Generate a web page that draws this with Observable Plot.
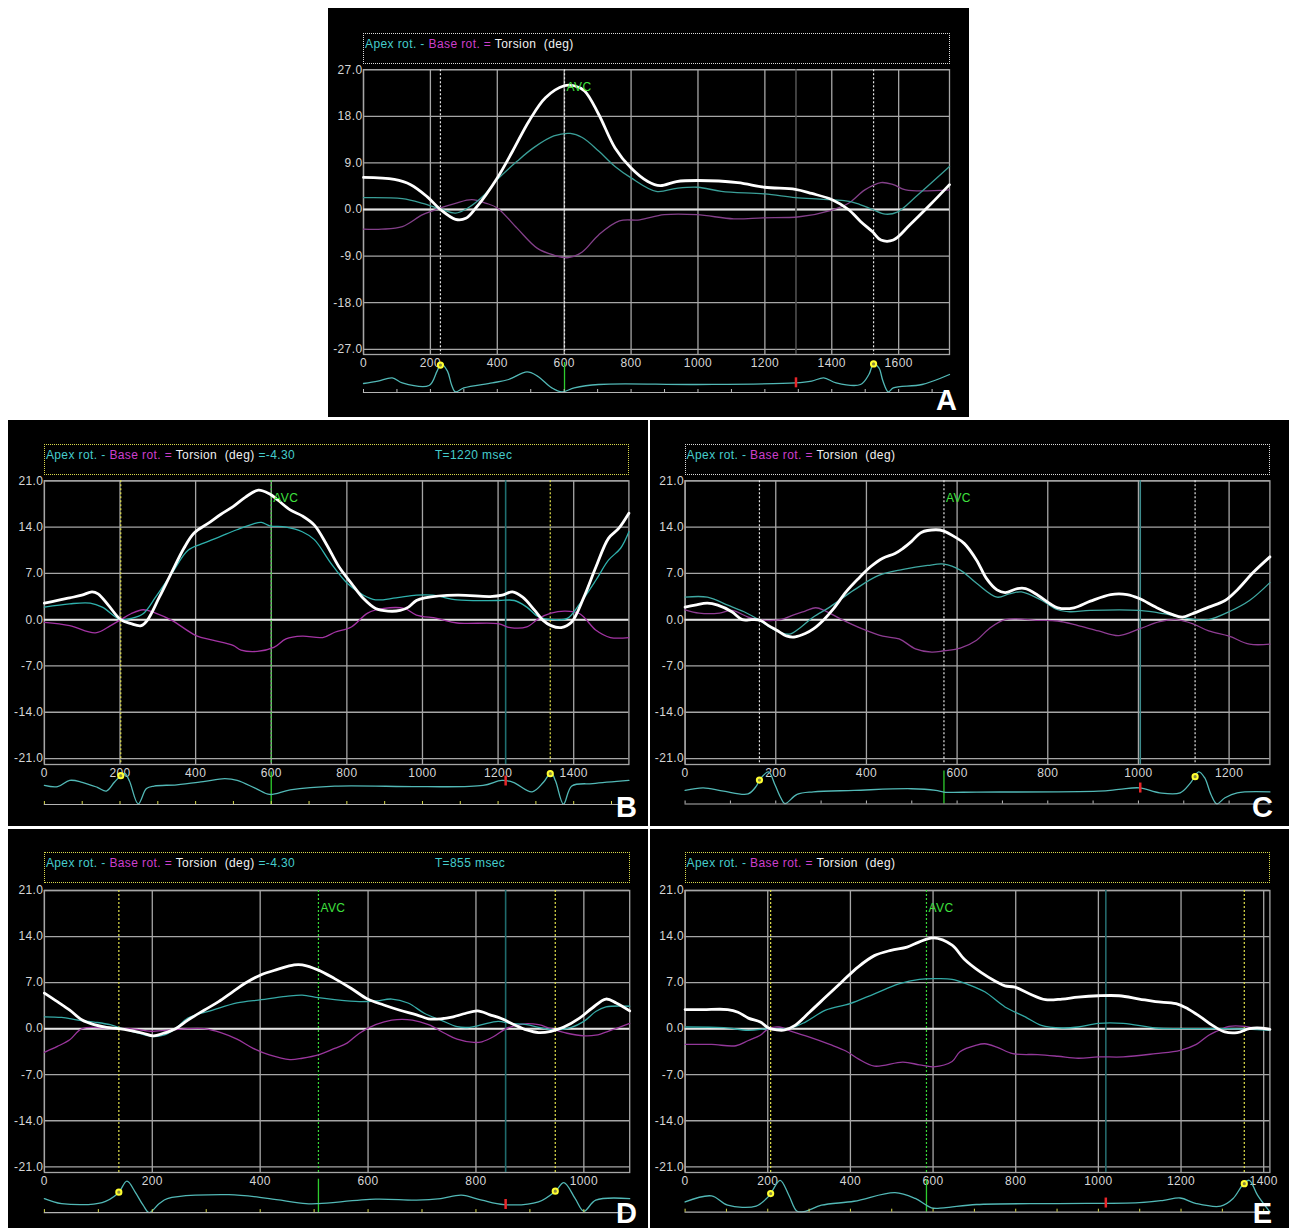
<!DOCTYPE html>
<html>
<head>
<meta charset="utf-8">
<script src="https://cdn.jsdelivr.net/npm/d3@7"></script>
<script src="https://cdn.jsdelivr.net/npm/@observablehq/plot@0.6"></script>
<style>
  html, body { margin: 0; padding: 0; background: #fff; }
  body { width: 1289px; height: 1228px; position: relative; overflow: hidden; font-family: "Liberation Sans", Arial, sans-serif; }
  .panel { position: absolute; background: #000; overflow: hidden; }
  .panel svg { position: absolute; left: 0; top: 0; }
  .hdr { position: absolute; box-sizing: border-box; border: 1px dotted #ddd; font-size: 12px; letter-spacing: 0.4px; line-height: 13px; padding: 4px 0 0 1px; white-space: pre; color: #eee; }
  .hdr span { position: relative; }
  .letter { position: absolute; color: #fff; font: bold 29px "Liberation Sans", Arial, sans-serif; line-height: 29px; }
</style>
</head>
<body>
<script>
// ================= DATA =================
const panelLetters = ["A", "B", "C", "D", "E"];
const timeMax = [1752, 1546, 1290, 1085, 1415];
const degMax = [27, 21, 21, 21, 21];
const degTicksA = [-27, -18, -9, 0, 9, 18, 27];
const degTicksBE = [-21, -14, -7, 0, 7, 14, 21];
const timeTicksA = [0, 200, 400, 600, 800, 1000, 1200, 1400, 1600];
const timeTicksB = [0, 200, 400, 600, 800, 1000, 1200, 1400];
const timeTicksC = [0, 200, 400, 600, 800, 1000, 1200];
const timeTicksD = [0, 200, 400, 600, 800, 1000];
const timeTicksE = [0, 200, 400, 600, 800, 1000, 1200, 1400];
const avcTimes = [601, 600, 571, 508, 584];
const cursorTimes = [1293, 1220, 1004, 855, 1018];
const rWaveTimes = [[230, 1525], [202, 1338], [164, 1125], [138, 947], [207, 1353]];
const headerLabels = ["Apex rot. - ", "Base rot. = ", "Torsion  (deg)"];
const headerValues = ["", " =-4.30", "", " =-4.30", ""];
const headerTimes = ["", "T=1220 msec", "", "T=855 msec", ""];

// ---- Panel A (ms, deg) ----
const torsionA = [[0,6.2],[92,5.8],[141,4.8],[190,2.5],[230,0],[275,-1.9],[306,-1.7],[336,0.3],[400,6.1],[446,11.3],[495,17.1],[544,21.6],[600,23.9],[630,23.9],[661,22.9],[703,18.4],[752,11.9],[800,8.0],[850,5.4],[887,4.6],[936,5.4],[1000,5.6],[1119,5.2],[1199,4.3],[1291,3.9],[1340,3.1],[1401,1.9],[1450,0],[1486,-2.3],[1522,-4.3],[1547,-5.9],[1584,-5.9],[1633,-3.0],[1694,0.9],[1752,4.8]];
const apexA = [[0,2.3],[116,2.1],[177,1.2],[230,0.1],[275,-0.7],[312,0.3],[361,2.8],[400,5.8],[459,9.3],[508,11.9],[569,14.2],[618,14.7],[654,13.9],[703,11.3],[752,8.3],[800,6.1],[875,3.5],[936,4.1],[1000,4.3],[1070,3.5],[1199,3.0],[1291,2.3],[1364,2.0],[1437,1.7],[1474,1.2],[1522,0],[1560,-0.9],[1596,-0.5],[1657,2.8],[1752,8.3]];
const baseA = [[0,-3.8],[55,-3.8],[116,-3.3],[177,-1.0],[230,0.3],[275,1.2],[324,1.9],[367,1.2],[400,0.3],[459,-3.6],[520,-7.5],[569,-8.8],[612,-9.3],[654,-8.2],[703,-4.9],[765,-2.2],[826,-2.0],[899,-1.0],[997,-1.0],[1107,-1.8],[1193,-1.6],[1303,-1.4],[1401,-0.1],[1450,1.2],[1499,3.8],[1547,5.2],[1584,4.8],[1621,3.8],[1752,3.8]];
const ecgA = [[0,0.05],[43,0.17],[86,0.33],[116,0.08],[196,-0.05],[220,0.67],[232,1.03],[251,0.67],[263,0],[275,-0.37],[300,-0.17],[385,0.08],[434,0.25],[489,0.63],[520,0.42],[563,-0.17],[593,-0.37],[630,-0.17],[703,0],[997,0],[1291,0.08],[1340,0.17],[1376,0.33],[1413,0.08],[1486,0],[1511,0.5],[1525,1.03],[1541,0.83],[1553,0.17],[1569,-0.37],[1584,-0.17],[1670,0],[1752,0.5]];

// ---- Panel B ----
const torsionB = [[0,2.5],[35,2.9],[67,3.3],[99,3.7],[126,4.2],[142,3.9],[169,2.2],[202,0],[229,-0.6],[256,-0.9],[272,-0.1],[304,3.4],[337,7.2],[369,10.8],[396,13.1],[434,14.6],[466,15.9],[499,17.1],[531,18.5],[566,19.6],[596,19.0],[617,18.1],[650,16.6],[682,15.7],[714,14.3],[747,11.3],[779,8.0],[812,5.5],[844,3.2],[876,1.7],[909,1.3],[941,1.4],[963,1.9],[984,2.9],[1006,3.3],[1092,3.7],[1179,3.5],[1211,3.7],[1238,4.2],[1265,3.4],[1297,1.4],[1319,-0.1],[1340,-0.9],[1367,-1.2],[1394,-0.4],[1427,3.4],[1459,8.0],[1492,12.3],[1519,13.8],[1546,16.1]];
const apexB = [[0,1.9],[67,2.4],[121,2.5],[153,1.9],[202,0],[229,0.2],[261,0.9],[294,3.4],[337,7.0],[380,10.5],[423,11.6],[466,12.6],[509,13.6],[553,14.5],[574,14.7],[596,14.2],[639,14.0],[682,13.3],[714,12.1],[758,8.5],[801,5.5],[844,3.7],[876,3.0],[930,3.3],[984,3.7],[1027,3.7],[1092,3.0],[1200,2.9],[1243,2.9],[1276,1.9],[1308,0.4],[1351,0],[1383,0.2],[1416,2.4],[1459,6.0],[1492,9.0],[1524,10.8],[1546,13.3]];
const baseB = [[0,-0.4],[67,-0.9],[135,-2.0],[175,-0.9],[202,0],[229,0.9],[261,1.5],[294,1.0],[337,-0.1],[401,-2.4],[445,-3.1],[499,-3.9],[520,-4.6],[563,-4.8],[607,-4.2],[639,-2.9],[682,-2.5],[736,-2.7],[768,-1.9],[812,-1.1],[855,1.0],[898,1.7],[952,1.7],[984,0.7],[1038,0.2],[1092,-0.5],[1200,-0.6],[1232,-1.2],[1276,-1.1],[1308,0.2],[1340,1.0],[1378,1.3],[1416,0.9],[1459,-1.6],[1497,-2.7],[1546,-2.7]];
const ecgB = [[0,0.05],[35,-0.05],[67,0.45],[100,0.3],[140,-0.1],[164,-0.39],[185,0.3],[203,0.85],[213,1.0],[225,0.4],[248,-1.4],[270,-0.2],[290,0],[350,0.1],[420,0.35],[477,0.58],[510,0.45],[560,-0.2],[596,-0.66],[650,-0.3],[768,0],[1000,-0.05],[1160,0.05],[1210,0.45],[1240,0.3],[1290,-0.45],[1320,0.3],[1340,1.05],[1352,0.4],[1373,-1.42],[1395,0],[1450,0.2],[1546,0.45]];

// ---- Panel C ----
const torsionC = [[0,1.9],[22,2.2],[49,2.5],[72,2.2],[103,1.2],[126,0],[148,0],[166,-0.1],[184,-0.9],[202,-1.6],[225,-2.5],[243,-2.6],[265,-2.1],[283,-1.4],[306,0],[328,1.7],[355,4.2],[382,6.2],[409,8.0],[436,9.3],[463,10.0],[481,10.8],[499,11.8],[521,13.2],[553,13.6],[571,13.4],[593,12.6],[616,11.5],[643,9.0],[665,6.2],[688,4.5],[706,4.1],[733,4.7],[751,4.7],[778,3.7],[805,2.4],[822,1.8],[858,1.8],[894,2.8],[939,3.8],[975,3.8],[1002,3.2],[1038,1.9],[1074,0.8],[1097,0.4],[1119,0.9],[1155,1.9],[1191,2.9],[1218,4.5],[1254,7.2],[1290,9.5]];
const apexC = [[0,3.4],[49,3.4],[94,2.2],[130,1.2],[162,0],[193,-1.4],[229,-2.2],[256,-1.1],[283,0.4],[319,1.9],[373,4.5],[427,6.7],[481,7.6],[535,8.2],[571,8.4],[607,7.5],[643,5.5],[688,3.4],[715,3.9],[742,4.2],[787,2.9],[822,1.5],[849,1.2],[894,1.4],[1002,1.4],[1056,0.9],[1092,0.4],[1128,0],[1155,0],[1200,1.2],[1245,2.9],[1290,5.6]];
const baseC = [[0,1.5],[31,1.0],[76,1.0],[103,1.4],[139,0.4],[162,0],[211,0],[238,0.7],[265,1.3],[288,1.8],[310,1.3],[346,0],[391,-1.4],[436,-2.5],[472,-2.9],[508,-4.4],[544,-4.9],[571,-4.7],[607,-4.3],[643,-3.1],[670,-1.4],[706,0],[778,-0.1],[822,-0.2],[867,-0.9],[912,-1.7],[957,-2.4],[1002,-1.4],[1047,-0.3],[1083,0],[1119,-0.6],[1155,-1.7],[1200,-2.5],[1245,-3.7],[1290,-3.7]];
const ecgC = [[0,0.04],[40,0.18],[85,0],[139,-0.15],[157,0.27],[164,0.6],[184,1.05],[198,0.36],[211,-0.36],[220,-0.68],[247,-0.18],[283,-0.04],[373,0.04],[499,0.13],[553,0.04],[571,-0.05],[643,-0.05],[912,0],[957,0.09],[1002,0.18],[1047,-0.09],[1092,-0.09],[1115,0.45],[1133,1.05],[1146,0.73],[1160,-0.18],[1173,-0.69],[1191,-0.36],[1218,-0.09],[1290,-0.04]];

// ---- Panel D ----
const torsionD = [[0,5.4],[24,4.1],[47,2.8],[70,1.3],[92,0.6],[115,0.2],[138,0],[160,-0.3],[183,-0.7],[202,-1.1],[221,-0.7],[243,0],[266,1.3],[296,2.8],[323,4.1],[349,5.6],[372,6.9],[402,8.2],[432,9.0],[463,9.7],[478,9.7],[508,8.9],[538,7.6],[569,6.1],[599,4.5],[629,3.6],[659,2.8],[690,2.1],[712,1.5],[735,1.5],[758,1.8],[780,2.3],[803,2.7],[826,2.1],[848,1.5],[871,0.6],[894,-0.2],[916,-0.6],[939,-0.4],[962,0.2],[992,1.6],[1015,3.1],[1041,4.5],[1060,3.9],[1085,2.7]];
const apexD = [[0,1.8],[32,1.7],[62,1.3],[92,1.0],[122,0.6],[145,0],[175,-0.7],[202,-1.2],[221,-1.0],[243,0],[266,1.6],[312,2.8],[357,3.9],[402,4.4],[448,4.9],[478,5.1],[508,4.7],[538,4.4],[584,4.1],[614,4.2],[644,4.5],[674,3.9],[705,2.3],[735,1.3],[765,0.3],[788,0.2],[811,0.6],[841,1.1],[863,0.8],[894,0.6],[916,0.2],[947,-0.2],[977,0.2],[1000,1.1],[1022,2.6],[1041,3.3],[1085,3.4]];
const baseD = [[0,-3.6],[24,-2.7],[47,-1.7],[70,0],[130,0],[160,0],[198,-0.4],[236,-0.2],[266,0],[296,0],[327,-0.6],[357,-1.6],[387,-3.0],[417,-4.0],[455,-4.7],[478,-4.5],[508,-4.0],[538,-3.0],[561,-2.2],[584,-0.7],[614,0.6],[644,1.3],[682,1.3],[712,0.6],[742,-0.7],[765,-1.6],[796,-2.1],[811,-2.0],[833,-1.2],[856,0],[886,0.7],[916,0.6],[939,0],[969,-0.7],[1000,-1.1],[1022,-1.0],[1052,-0.2],[1085,0.8]];
const ecgD = [[0,0.13],[32,-0.12],[107,-0.07],[136,0.38],[153,1.0],[168,0.47],[183,-0.2],[194,-0.57],[213,-0.12],[228,0.13],[342,0.33],[417,0.13],[485,-0.12],[508,-0.12],[614,0.1],[690,0.05],[735,0.13],[773,0.3],[811,0.05],[852,-0.17],[916,-0.03],[947,0.5],[963,0.93],[984,0.13],[1000,-0.5],[1022,0.05],[1085,0.13]];

// ---- Panel E ----
const torsionE = [[0,2.9],[44,2.9],[103,2.9],[128,2.5],[153,1.6],[182,1.0],[202,0.1],[222,-0.2],[241,-0.2],[266,0.5],[301,2.5],[340,4.8],[379,7.1],[419,9.4],[458,11.1],[498,11.9],[537,12.4],[567,13.2],[601,13.8],[646,12.7],[675,10.6],[715,8.6],[754,7.1],[774,6.5],[798,6.3],[833,5.3],[872,4.4],[912,4.5],[951,4.8],[1000,5.0],[1050,5.0],[1099,4.5],[1138,4.1],[1188,3.8],[1217,3.0],[1247,1.8],[1276,0.5],[1306,-0.5],[1336,-0.6],[1365,0],[1385,0.1],[1415,-0.1]];
const apexE = [[0,0.25],[94,0.15],[153,-0.25],[202,0],[251,0],[291,1.0],[340,2.8],[399,3.8],[458,5.3],[517,6.8],[567,7.5],[606,7.6],[646,7.5],[685,6.7],[725,5.6],[774,3.3],[823,1.8],[862,0.5],[912,0.1],[951,0.25],[1000,0.8],[1060,0.8],[1138,0.1],[1198,0],[1316,0],[1415,-0.25]];
const baseE = [[0,-2.4],[64,-2.4],[123,-2.6],[153,-1.8],[182,-1.0],[202,0],[227,0.25],[261,-0.5],[301,-1.3],[350,-2.4],[389,-3.4],[419,-4.6],[458,-5.7],[527,-5.1],[567,-5.5],[601,-5.8],[646,-5.0],[665,-3.5],[705,-2.5],[725,-2.3],[754,-2.8],[793,-3.8],[853,-3.95],[902,-4.2],[951,-4.5],[1000,-4.3],[1060,-4.3],[1138,-3.8],[1198,-3.3],[1237,-2.4],[1267,-1.0],[1286,-0.4],[1316,0.35],[1355,0.35],[1385,0],[1415,-0.1]];
const ecgE = [[0,0.14],[64,0.4],[103,0],[172,-0.04],[197,0.29],[207,0.5],[230,1.07],[251,0.43],[271,-0.26],[291,-0.26],[330,0],[409,0.17],[508,0.54],[557,0.29],[596,-0.11],[626,-0.11],[705,0.03],[902,0.07],[1099,0.11],[1158,0.21],[1198,0.31],[1237,0.07],[1296,-0.04],[1326,0.29],[1350,0.89],[1365,1.07],[1385,0.43],[1415,-0.29]];

const torsionSeries = [torsionA, torsionB, torsionC, torsionD, torsionE];
const apexSeries = [apexA, apexB, apexC, apexD, apexE];
const baseSeries = [baseA, baseB, baseC, baseD, baseE];
const ecgSeries = [ecgA, ecgB, ecgC, ecgD, ecgE];
const degTickSets = [degTicksA, degTicksBE, degTicksBE, degTicksBE, degTicksBE];
const timeTickSets = [timeTicksA, timeTicksB, timeTicksC, timeTicksD, timeTicksE];
const ecgRange = [[-0.4, 1.1], [-1.45, 1.1], [-0.7, 1.1], [-0.57, 1.1], [-0.3, 1.1]];

// ================= LAYOUT / STYLE =================
const layout = [
  {left: 328, top: 8,   w: 641, h: 409, ml: 35,   mr: 20,   mt: 61.2, mb: 63, pad: 1.0,  emt: 354,   emb: 25,   ppu: 20,   hdrTop: 25, letR: 12, letB: 2.5, yellow: false},
  {left: 8,   top: 420, w: 640, h: 406, ml: 35.9, mr: 19.6, mt: 60.3, mb: 62, pad: 0.9,  emt: 351.6, emb: 22,   ppu: 12.7, hdrTop: 24, letR: 11, letB: 4.5, yellow: true},
  {left: 650, top: 420, w: 639, h: 406, ml: 34.6, mr: 19.6, mt: 60.3, mb: 62, pad: 0.9,  emt: 350.4, emb: 22.5, ppu: 18.4, hdrTop: 24, letR: 16, letB: 4.5, yellow: false},
  {left: 8,   top: 829, w: 640, h: 399, ml: 35.9, mr: 18.8, mt: 61,   mb: 56, pad: 0.87, emt: 349.7, emb: 15.9, ppu: 20,   hdrTop: 23, letR: 11, letB: 0.5, yellow: true},
  {left: 650, top: 829, w: 639, h: 399, ml: 34.6, mr: 19.6, mt: 61,   mb: 56, pad: 0.87, emt: 350.1, emb: 16.3, ppu: 23.3, hdrTop: 23, letR: 17, letB: 0.5, yellow: true}
];
const FONT = '"Liberation Sans", Arial, sans-serif';
const gridColor = "#a6a6a6";
const apexColors = ["#3a9f98", "#2fb1ad", "#3fa8a2", "#36a9a6", "#33a9a5"];
const baseColors = ["#84408a", "#a434a4", "#8e3c92", "#9a369c", "#93389a"];
const cursorColors = ["#505050", "#1f6f70", "#3d8b8c", "#1f6a6c", "#24686b"];

function ecgAt(arr, t) {
  const i = d3.bisector(d => d[0]).right(arr, t);
  const a = arr[Math.max(0, i - 1)], b = arr[Math.min(arr.length - 1, i)];
  const u = b[0] === a[0] ? 0 : (t - a[0]) / (b[0] - a[0]);
  return a[1] + u * (b[1] - a[1]);
}

panelLetters.forEach((letter, i) => {
  const L = layout[i];
  const markColor = L.yellow ? "#e2e24c" : "#e6e6e6";
  const avcColor = L.yellow ? "#37d837" : "#e6e6e6";
  const panel = document.createElement("div");
  panel.className = "panel";
  Object.assign(panel.style, {left: L.left + "px", top: L.top + "px", width: L.w + "px", height: L.h + "px"});
  document.body.appendChild(panel);

  // header
  const hdr = document.createElement("div");
  hdr.className = "hdr";
  Object.assign(hdr.style, {left: L.ml + "px", top: L.hdrTop + "px", width: (L.w - L.ml - L.mr + 1) + "px", height: "31px", borderColor: L.yellow ? "#d8d84a" : "#dcdcdc"});
  const colors = ["#45cccc", "#cc3fcc", "#f0f0f0"];
  headerLabels.forEach((t, k) => {
    const s = document.createElement("span"); s.textContent = t; s.style.color = colors[k]; hdr.appendChild(s);
  });
  if (headerValues[i]) {
    const s = document.createElement("span"); s.textContent = headerValues[i]; s.style.color = "#45cccc"; hdr.appendChild(s);
  }
  if (headerTimes[i]) {
    const s = document.createElement("span"); s.textContent = headerTimes[i]; s.style.color = "#45cccc";
    s.style.position = "absolute"; s.style.left = "390px"; s.style.top = "4px"; hdr.appendChild(s);
  }
  panel.appendChild(hdr);

  const xDom = [0, timeMax[i]];
  const main = Plot.plot({
    width: L.w, height: L.h,
    marginLeft: L.ml, marginRight: L.mr, marginTop: L.mt, marginBottom: L.mb,
    style: {background: "transparent", fontFamily: FONT, fontSize: "12px", letterSpacing: "0.4px", color: "#d6d6d6"},
    x: {domain: xDom},
    y: {domain: [-(degMax[i] + L.pad), degMax[i]]},
    marks: [
      Plot.gridX({ticks: timeTickSets[i], stroke: gridColor, strokeOpacity: 1, strokeWidth: 1.3}),
      Plot.gridY({ticks: degTickSets[i], stroke: gridColor, strokeOpacity: 1, strokeWidth: 1.3}),
      Plot.frame({stroke: gridColor, strokeWidth: 1.3}),
      Plot.ruleY([0], {stroke: "#e4e4e4", strokeWidth: 2}),
      Plot.ruleX(rWaveTimes[i], {x: d => d, stroke: markColor, strokeWidth: 1.2, strokeDasharray: "2,2"}),
      Plot.ruleX([avcTimes[i]], {x: d => d, stroke: avcColor, strokeWidth: 1.2, strokeDasharray: "2,2"}),
      Plot.ruleX([cursorTimes[i]], {x: d => d, stroke: cursorColors[i], strokeWidth: 1.6}),
      Plot.line(baseSeries[i], {x: d => d[0], y: d => d[1], stroke: baseColors[i], strokeWidth: 1.3, curve: "catmull-rom"}),
      Plot.line(apexSeries[i], {x: d => d[0], y: d => d[1], stroke: apexColors[i], strokeWidth: 1.3, curve: "catmull-rom"}),
      Plot.line(torsionSeries[i], {x: d => d[0], y: d => d[1], stroke: "#ffffff", strokeWidth: 2.8, curve: "catmull-rom"}),
      Plot.text([avcTimes[i]], {x: d => d, frameAnchor: "top", text: () => "AVC", dx: 2, dy: 13, textAnchor: "start", fill: "#3fe03f", fontSize: 12}),
      Plot.axisY({ticks: degTickSets[i], tickSize: 0, tickPadding: 1, tickFormat: d => d.toFixed(1)}),
      Plot.axisX({ticks: timeTickSets[i], tickSize: 0, tickPadding: 4, tickFormat: d => String(d)})
    ]
  });
  panel.appendChild(main);

  const ecg = ecgSeries[i];
  const half = 5 / L.ppu;
  const strip = Plot.plot({
    width: L.w, height: L.h,
    marginLeft: L.ml, marginRight: L.mr, marginTop: L.emt, marginBottom: L.emb,
    style: {background: "transparent", fontFamily: FONT, fontSize: "11px"},
    x: {domain: xDom},
    y: {domain: ecgRange[i], axis: null},
    marks: [
      Plot.ruleX([avcTimes[i]], {x: d => d, stroke: "#2ecc2e", strokeWidth: 1.3}),
      Plot.line(ecg, {x: d => d[0], y: d => d[1], stroke: "#52b8b6", strokeWidth: 1.3, curve: "catmull-rom"}),
      Plot.ruleX([cursorTimes[i]], {x: d => d, y1: d => ecgAt(ecg, d) - half, y2: d => ecgAt(ecg, d) + half, stroke: "#e8262a", strokeWidth: 2.5}),
      Plot.dot(rWaveTimes[i], {x: d => d, y: d => ecgAt(ecg, d), r: 2.6, fill: "#8a8a40", stroke: "#ffff30", strokeWidth: 2}),
      Plot.frame({anchor: "bottom", stroke: "#b4b4b4", strokeWidth: 1.2}),
      Plot.axisX({ticks: d3.range(0, timeMax[i] + 1, 100), tickSize: 3, dy: -3, tickFormat: () => "", stroke: L.yellow ? "#d8d84a" : "#bdbdbd"})
    ]
  });
  panel.appendChild(strip);

  const let_ = document.createElement("div");
  let_.className = "letter";
  let_.textContent = letter;
  let_.style.right = L.letR + "px";
  let_.style.bottom = L.letB + "px";
  panel.appendChild(let_);
});
</script>
</body>
</html>
